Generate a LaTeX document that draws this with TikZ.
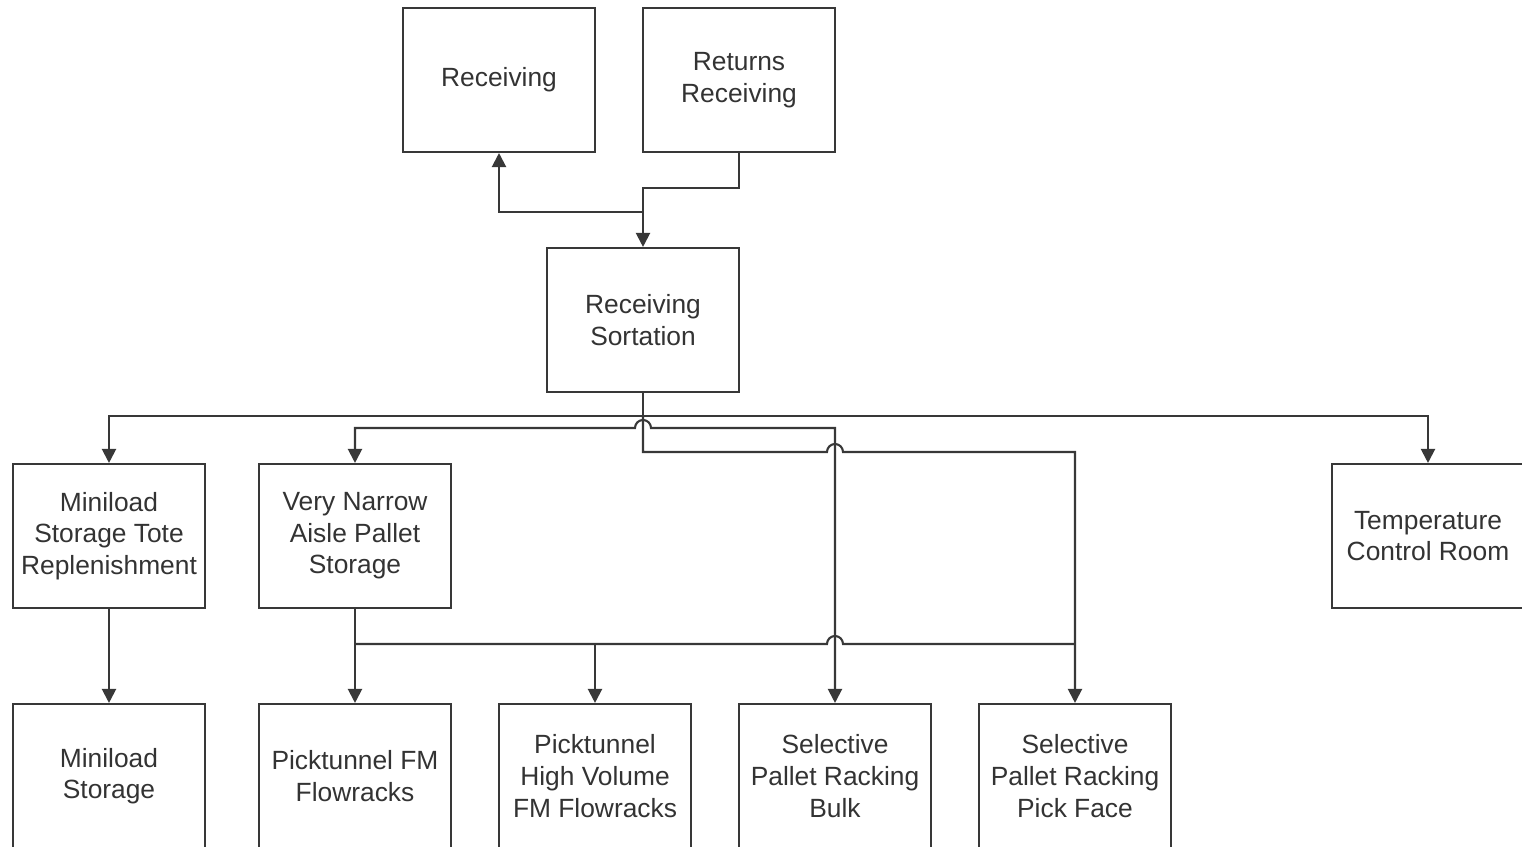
\documentclass[tikz,border=0pt]{standalone}
\usepackage{fontspec}
\setmainfont{Liberation Sans}
\usetikzlibrary{arrows.meta}

\begin{document}
\begin{tikzpicture}[x=0.02cm, y=-0.02cm,
    box/.style={draw=black!78, line width=1.2pt, minimum width=3.84cm, minimum height=2.88cm,
      align=center, text=black!80, font=\fontsize{15}{18}\selectfont},
    conn/.style={draw=black!78, line width=1.2pt, -{Triangle[length=8pt,width=8pt]}},
    wire/.style={draw=black!78, line width=1.2pt}]
  \useasboundingbox (0,0) rectangle (1522,847);

  % Draw the boxes
  \node[box] (recv)    at (499,80)  {Receiving};
  \node[box] (retrecv) at (739,80)  {Returns\\Receiving};
  \node[box] (sort)    at (643,320) {Receiving\\Sortation};
  \node[box] (mstr)    at (109,536) {Miniload\\Storage Tote\\Replenishment};
  \node[box] (vna)     at (355,536) {Very Narrow\\Aisle Pallet\\Storage};
  \node[box] (temp)    at (1428,536) {Temperature\\Control Room};
  \node[box] (mst)     at (109,776) {Miniload\\Storage};
  \node[box] (ptfm)    at (355,776) {Picktunnel FM\\Flowracks};
  \node[box] (pthv)    at (595,776) {Picktunnel\\High Volume\\FM Flowracks};
  \node[box] (sprb)    at (835,776) {Selective\\Pallet Racking\\Bulk};
  \node[box] (sprp)    at (1075,776) {Selective\\Pallet Racking\\Pick Face};

  % Bend points
  \coordinate (j1) at (643,188);
  \coordinate (j2) at (643,416);
  \coordinate (j4) at (355,644);

  % Returns receiving to receiving and sortation
  \draw[conn] (retrecv.south) |- (j1) -- (sort.north);
  \draw[conn] (j1) -- (643,212) -| (recv.south);

  % Sortation to the second row and the pick face
  \draw[conn] (sort.south) -- (j2) -| (mstr.north);
  \draw[conn] (j2) -| (temp.north);
  \draw[conn] (j2) -- (643,452) -- (827,452) arc[start angle=180,end angle=0,radius=0.16cm]
    -- (1075,452) -- (sprp.north);

  % Very narrow aisle to bulk, hopping over the sortation line
  \draw[conn, {Triangle[length=8pt,width=8pt]}-{Triangle[length=8pt,width=8pt]}]
    (vna.north) -- (355,428) -- (635,428) arc[start angle=180,end angle=0,radius=0.16cm]
    -- (835,428) -- (sprb.north);

  % Very narrow aisle to the picktunnels
  \draw[conn] (vna.south) -- (ptfm.north);
  \draw[wire] (j4) -- (827,644) arc[start angle=180,end angle=0,radius=0.16cm] -- (1075,644);
  \draw[conn] (595,644) -- (pthv.north);

  % Miniload
  \draw[conn] (mstr.south) -- (mst.north);
\end{tikzpicture}
\end{document}
